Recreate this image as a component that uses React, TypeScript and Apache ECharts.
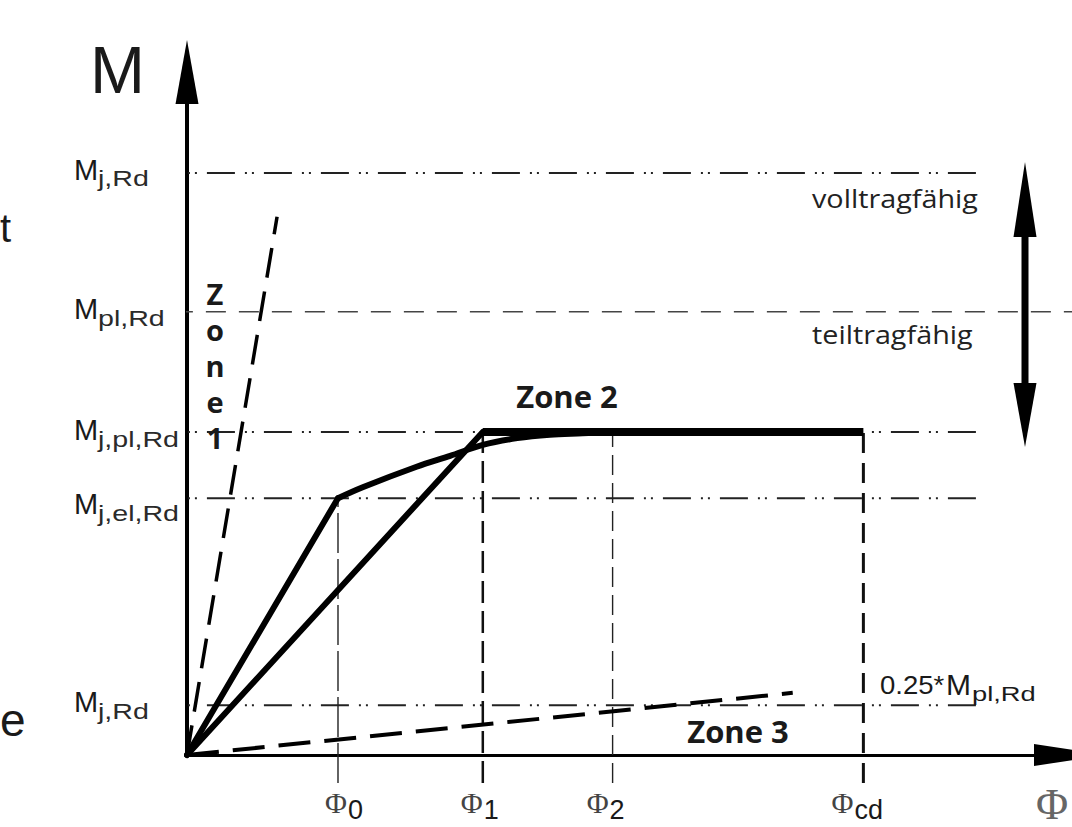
import React, { useEffect, useRef } from 'react';
import * as echarts from 'echarts';

// ---- data ----
const levelValues = [85.2, 64.9, 47.3, 37.6, 7.3];
const levelSubs = ['j,Rd', 'pl,Rd', 'j,pl,Rd', 'j,el,Rd', 'j,Rd'];
const phiValues = [17.1, 33.5, 48.2, 76.6];
const phiSubs = ['0', '1', '2', 'cd'];
const phiTopLevel = [37.6, 47.3, 47.3, 47.3];
const elasticLeg = [[0, 0], [17.1, 37.6]];
const hardeningCurve = [
  [17.1, 37.6], [19.9, 39.2], [26.0, 42.2], [29.8, 43.8], [33.5, 45.4],
  [37.4, 46.4], [41.1, 46.9], [44.8, 47.1], [48.2, 47.3],
];
const bilinearRise = [[0, 0], [33.5, 47.3]];
const plateau = [[33.5, 47.3], [76.6, 47.3]];
const zone1Boundary = [[0, 0], [10.2, 78.8]];
const zone3Boundary = [[0, 0], [68.6, 9.1]];

const SANS = '"Liberation Sans", Arial, sans-serif';
const SERIF = '"Liberation Serif", "Times New Roman", serif';
const HUMAN = '"Open Sans", "Noto Sans", sans-serif';

const DASH_DOT = [28, 10, 2, 5, 2, 10];

function buildOption() {
  const series: any[] = [];
  levelValues.forEach((v, i) => {
    const isPl = i === 1;
    series.push({
      type: 'line',
      data: isPl ? [[-1.6, v], [101, v]] : [[-4.2, v], [89.6, v]],
      symbol: 'none',
      clip: false,
      silent: true,
      z: 1,
      lineStyle: isPl
        ? { color: '#444', width: 1.6, type: [20, 13] }
        : { color: '#222', width: 2, type: DASH_DOT },
    });
  });
  const phiStyles = [
    { width: 1.4, type: [40, 6], color: '#222' },
    { width: 2.5, type: [22, 8], color: '#111' },
    { width: 1.4, type: [20, 8], color: '#222' },
    { width: 3, type: [20, 10], color: '#111' },
  ];
  phiValues.forEach((p, i) => {
    series.push({
      type: 'line',
      data: [[p, -4.1], [p, phiTopLevel[i]]],
      symbol: 'none',
      clip: false,
      silent: true,
      z: 1,
      lineStyle: phiStyles[i],
    });
  });
  series.push({
    type: 'line', data: zone1Boundary, symbol: 'none', clip: false, silent: true, z: 2,
    lineStyle: { color: '#000', width: 3.5, type: [30, 14] },
  });
  series.push({
    type: 'line', data: zone3Boundary, symbol: 'none', clip: false, silent: true, z: 2,
    lineStyle: { color: '#000', width: 4, type: [32, 14] },
  });
  series.push({
    type: 'line', data: elasticLeg, symbol: 'none', clip: false, silent: true, z: 3,
    lineStyle: { color: '#000', width: 6, cap: 'round' },
  });
  series.push({
    type: 'line', data: hardeningCurve, symbol: 'none', smooth: 0.35, clip: false, silent: true, z: 3,
    lineStyle: { color: '#000', width: 6, cap: 'round' },
  });
  series.push({
    type: 'line', data: bilinearRise, symbol: 'none', clip: false, silent: true, z: 3,
    lineStyle: { color: '#000', width: 6, cap: 'round' },
  });
  series.push({
    type: 'line', data: plateau, symbol: 'none', clip: false, silent: true, z: 3,
    lineStyle: { color: '#000', width: 8 },
  });

  return {
    animation: false,
    backgroundColor: '#ffffff',
    grid: { left: 187, right: 2, top: 72, bottom: 72 },
    xAxis: {
      type: 'value', min: 0, max: 100,
      axisLine: { show: true, onZero: true, symbol: ['none', 'triangle'], symbolSize: [22, 72], lineStyle: { color: '#000', width: 3 } },
      axisTick: { show: false }, axisLabel: { show: false }, splitLine: { show: false },
    },
    yAxis: {
      type: 'value', min: 0, max: 100,
      axisLine: { show: true, onZero: true, symbol: ['none', 'triangle'], symbolSize: [23, 64], lineStyle: { color: '#000', width: 4 } },
      axisTick: { show: false }, axisLabel: { show: false }, splitLine: { show: false },
    },
    series,
  };
}

function txt(x: number, y: number, text: string, font: string, opts: any = {}) {
  return {
    type: 'text',
    x, y,
    scaleX: opts.scaleX ?? 1,
    z: 10,
    silent: true,
    style: {
      text,
      font,
      fill: opts.fill ?? '#1a1a1a',
      align: opts.align ?? 'left',
      verticalAlign: opts.verticalAlign ?? 'middle',
      lineHeight: opts.lineHeight,
    },
  };
}

function buildGraphic(chart: any) {
  const px = (x: number, y: number) => chart.convertToPixel({ gridIndex: 0 }, [x, y]);
  const g: any[] = [];
  const mDy = [-3.5, -2.5, -2, 6, -3];
  levelValues.forEach((v, i) => {
    const y = px(0, v)[1];
    g.push(txt(74, y + mDy[i], 'M', `29px ${SANS}`));
    g.push(txt(98, y + mDy[i] + 9, levelSubs[i], `22px ${SANS}`, { scaleX: 1.3, fill: '#2a2a2a' }));
  });
  const phiDx = [-2, -11, -15, -21];
  phiValues.forEach((p, i) => {
    const x = px(p, 0)[0] + phiDx[i];
    g.push(txt(x, 802, 'Φ', `30px ${SERIF}`, { align: 'center', fill: '#444' }));
    g.push(txt(x + 12, 810, phiSubs[i], `27px ${SANS}`));
  });
  // axis titles
  g.push(txt(90, 70, 'M', `66px ${SANS}`));
  g.push(txt(1036, 804, 'Φ', `44px ${SERIF}`, { fill: '#666' }));
  // zone labels
  g.push(txt(567, 396, 'Zone 2', `bold 31px ${HUMAN}`, { align: 'center' }));
  g.push(txt(738, 731, 'Zone 3', `bold 31px ${HUMAN}`, { align: 'center' }));
  g.push(txt(215, 275, 'Z\no\nn\ne\n1', `bold 29px ${HUMAN}`, { align: 'center', verticalAlign: 'top', lineHeight: 36 }));
  // right side notes
  g.push(txt(812, 198, 'volltragfähig', `25px ${HUMAN}`, { scaleX: 1.15, fill: '#222' }));
  g.push(txt(812, 334, 'teiltragfähig', `25px ${HUMAN}`, { scaleX: 1.15, fill: '#222' }));
  g.push(txt(880, 685, '0.25*', `25px ${SANS}`, { scaleX: 1.1 }));
  g.push(txt(946, 684, 'M', `30px ${SANS}`));
  g.push(txt(972, 694, 'pl,Rd', `21px ${SANS}`, { scaleX: 1.3 }));
  // fragments at the left edge
  g.push(txt(0, 228, 't', `40px ${SANS}`));
  g.push(txt(0, 720, 'e', `46px ${SANS}`));
  // double arrow (volltragfähig / teiltragfähig)
  g.push({ type: 'line', z: 10, silent: true, shape: { x1: 1025, y1: 230, x2: 1025, y2: 390 }, style: { stroke: '#000', lineWidth: 7 } });
  g.push({ type: 'polygon', z: 10, silent: true, shape: { points: [[1025, 162], [1036.5, 237], [1013.5, 237]] }, style: { fill: '#000' } });
  g.push({ type: 'polygon', z: 10, silent: true, shape: { points: [[1025, 447], [1036.5, 383], [1013.5, 383]] }, style: { fill: '#000' } });
  return g;
}

export default function App() {
  const ref = useRef<HTMLDivElement>(null);
  useEffect(() => {
    if (!ref.current) return;
    const chart = echarts.init(ref.current, null, { renderer: 'svg' });
    chart.setOption(buildOption());
    chart.setOption({ graphic: buildGraphic(chart) });
    return () => chart.dispose();
  }, []);
  return (
    <div
      ref={ref}
      style={{ position: 'absolute', left: 0, top: 0, width: 1072, height: 827, background: '#fff' }}
    />
  );
}
